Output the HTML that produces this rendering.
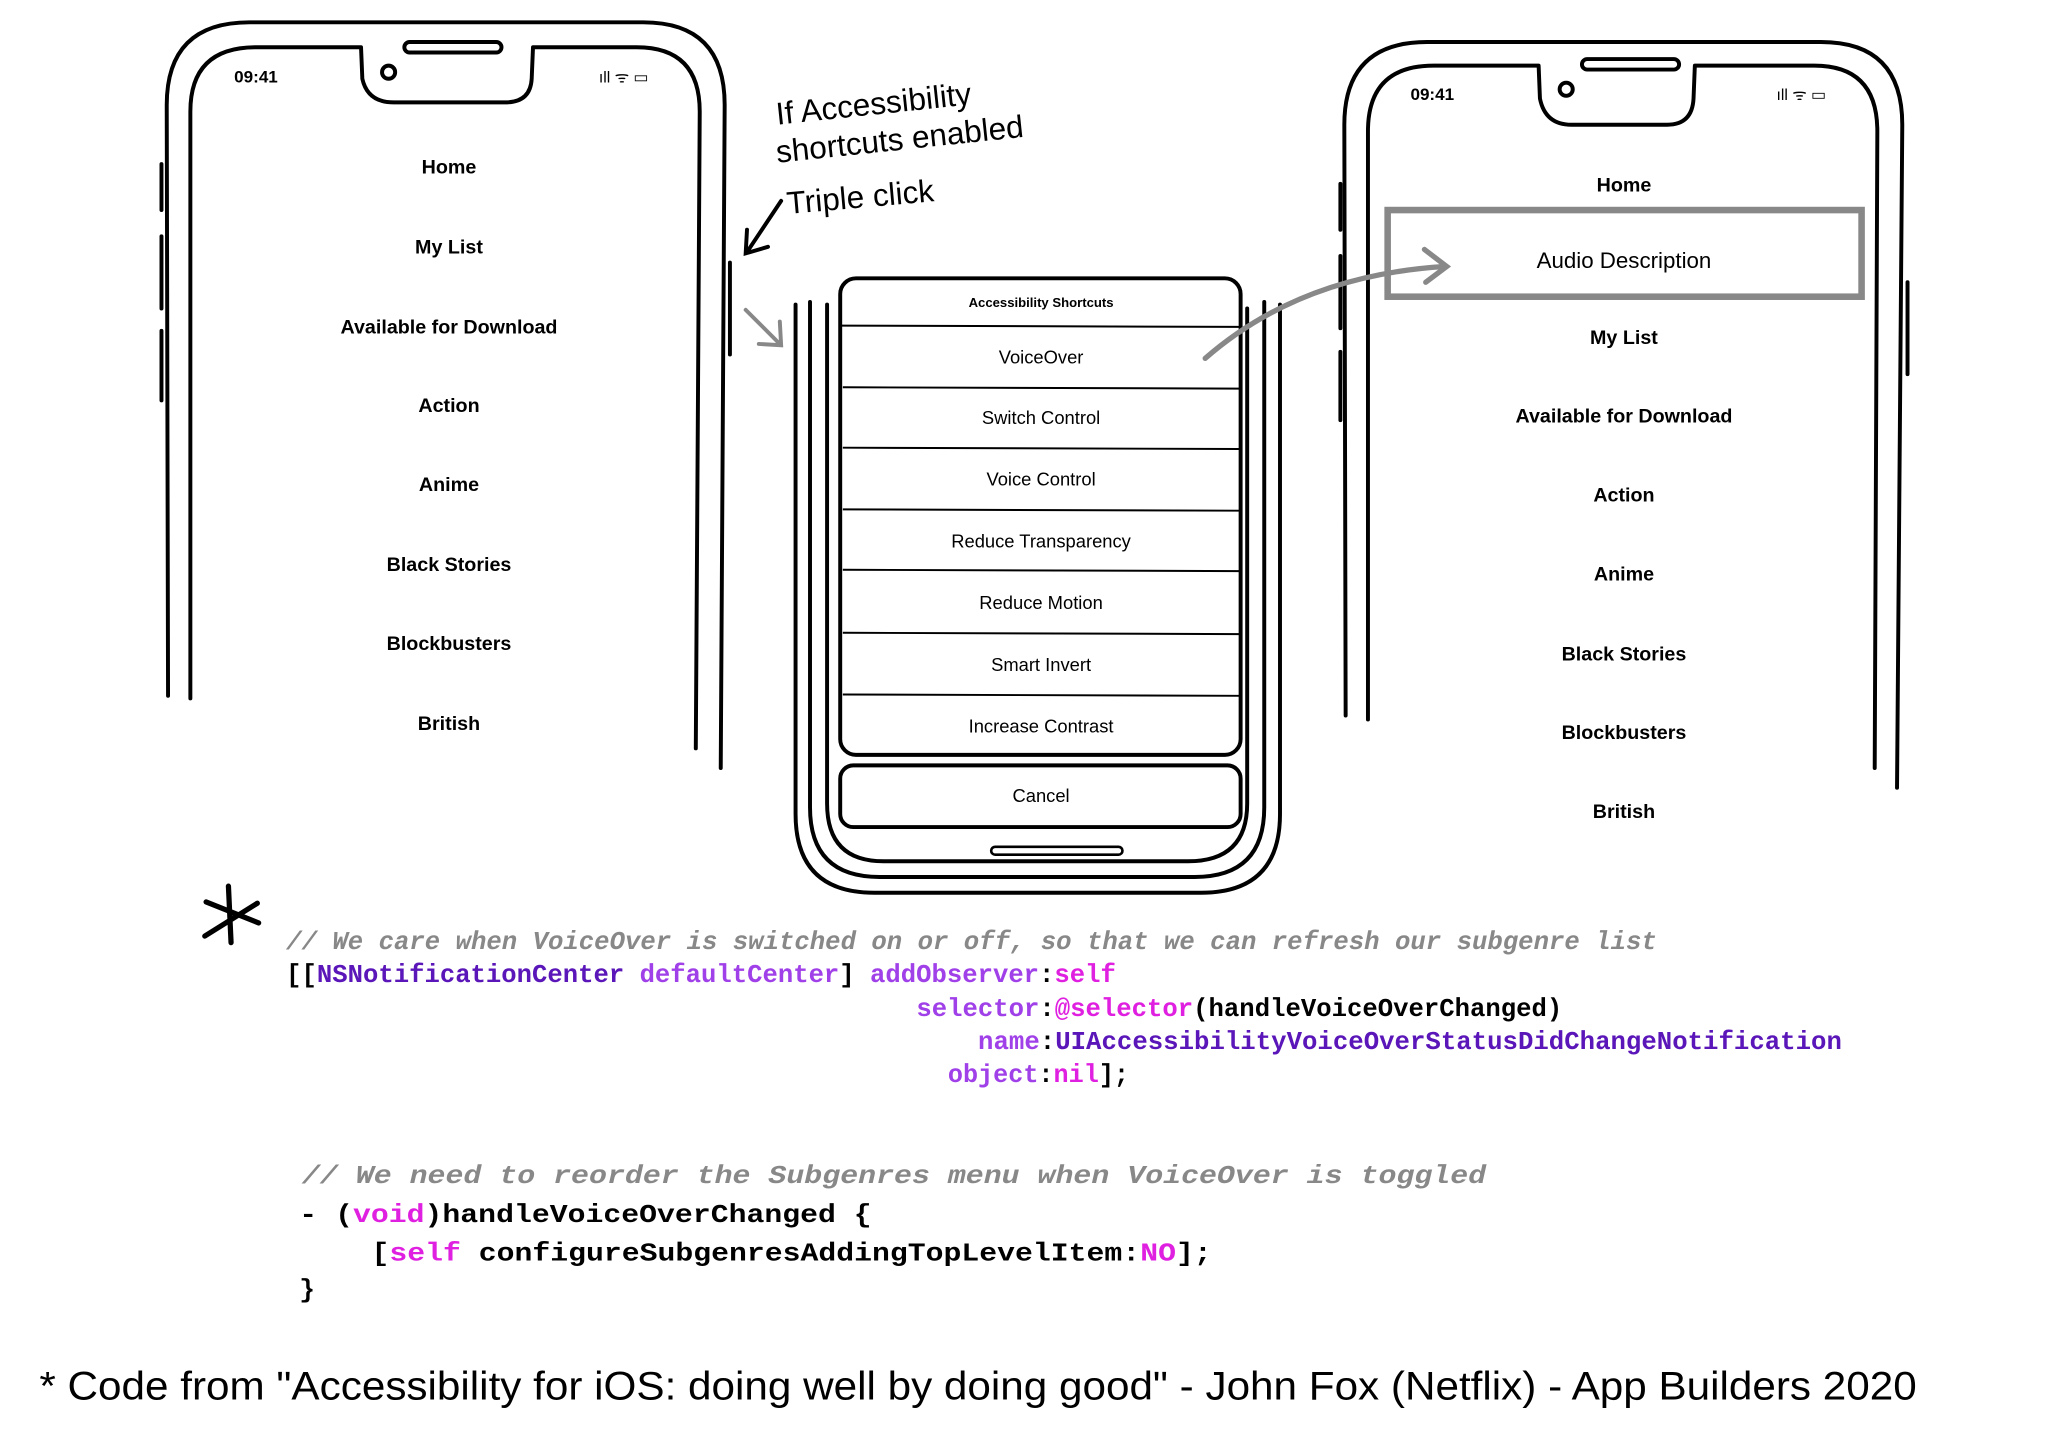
<!DOCTYPE html>
<html><head><meta charset="utf-8"><style>
html,body{margin:0;padding:0;background:#fff;width:2048px;height:1431px;overflow:hidden}
svg{display:block}
.m{font-family:"Liberation Sans",sans-serif;font-weight:bold;font-size:15px;text-anchor:middle;fill:#000}
.s{font-family:"Liberation Sans",sans-serif;font-size:14px;text-anchor:middle;fill:#000}
.c{font-family:"Liberation Mono",monospace;font-size:20px;font-weight:bold}
.h{font-family:"Liberation Sans",sans-serif;font-size:24px;fill:#000}
</style></head><body>
<svg width="2048" height="1431" viewBox="0 0 1560 1090" preserveAspectRatio="none" xmlns="http://www.w3.org/2000/svg">
<g fill="none" stroke="#000" stroke-width="3" stroke-linecap="round" stroke-linejoin="round">
<path d="M128 530 L127 80 Q127 17 190 17 L490 17 Q552 17 552 80 L549 585"/>
<path d="M145 532 L145 85 Q145 36 195 36 L275 36 L276 60 Q280 78 300 78 L385 78 Q404 78 405 60 L406 36 L485 36 Q533 36 533 85 L530 570"/>
<rect x="308" y="32" width="74" height="8" rx="4"/>
<circle cx="296" cy="55" r="5"/>
<path d="M123 125 L123 160 M123 180 L123 235 M123 252 L123 305 M556 200 L556 270"/>
<path d="M1025 545 L1024 95 Q1024 32 1087 32 L1387 32 Q1449 32 1449 95 L1445 600"/>
<path d="M1042 548 L1042 100 Q1042 50 1092 50 L1172 50 L1173 75 Q1177 95 1197 95 L1270 95 Q1289 95 1290 75 L1291 50 L1382 50 Q1430 50 1430 100 L1428 585"/>
<rect x="1205" y="45" width="74" height="8" rx="4"/>
<circle cx="1193" cy="68" r="5"/>
<path d="M1021 140 L1021 175 M1021 195 L1021 250 M1021 268 L1021 320 M1453 215 L1453 285"/>
<path d="M606 232 L606 620 Q606 680 666 680 L915 680 Q975 680 975 620 L975 232"/>
<path d="M617 230 L617 615 Q617 668 670 668 L910 668 Q963 668 963 615 L963 230"/>
<path d="M630 232 L630 612 Q630 656 673 656 L905 656 Q950 656 950 612 L950 235"/>
<rect x="640" y="212" width="305" height="363" rx="12"/>
<rect x="640" y="583" width="305" height="47" rx="10"/>
<rect x="755" y="645" width="100" height="6" rx="3" stroke-width="2"/>
<path d="M174 675 L176 718 M157 687 L197 703 M156 713 L196 688" stroke-width="4"/>
</g>
<g stroke="#000" stroke-width="1.5">
<path d="M641 248 L944 249 M642 295 L944 296 M642 341 L944 342 M642 388 L944 389 M642 434 L944 435 M642 482 L944 483 M642 529 L944 530"/>
</g>
<rect x="1057" y="160" width="361" height="66" fill="none" stroke="#888" stroke-width="5"/>
<path d="M918 273 Q990 210 1100 203" fill="none" stroke="#888" stroke-width="4" stroke-linecap="round"/>
<path d="M1085 190 L1102 203 L1086 215" fill="none" stroke="#888" stroke-width="4" stroke-linecap="round"/>
<path d="M568 236 L594 262 M594 245 L595 263 L578 262" fill="none" stroke="#888" stroke-width="3" stroke-linecap="round"/>
<path d="M595 153 L569 192 M569 175 L568 193 L585 188" fill="none" stroke="#000" stroke-width="3" stroke-linecap="round"/>
<text x="195" y="63" class="s" style="font-weight:bold;font-size:13px">09:41</text>
<text x="1091" y="76" class="s" style="font-weight:bold;font-size:13px">09:41</text>
<text x="475" y="63" class="s" style="font-size:12px">ıll ᯤ ▭</text>
<text x="1372" y="76" class="s" style="font-size:12px">ıll ᯤ ▭</text>
<g class="m">
<text x="342" y="132">Home</text><text x="342" y="193">My List</text><text x="342" y="254">Available for Download</text><text x="342" y="314">Action</text><text x="342" y="374">Anime</text><text x="342" y="435">Black Stories</text><text x="342" y="495">Blockbusters</text><text x="342" y="556">British</text>
</g>
<g class="m">
<text x="1237" y="146">Home</text><text x="1237" y="204" style="font-weight:normal;font-size:17px">Audio Description</text><text x="1237" y="262">My List</text><text x="1237" y="322">Available for Download</text><text x="1237" y="382">Action</text><text x="1237" y="442">Anime</text><text x="1237" y="503">Black Stories</text><text x="1237" y="563">Blockbusters</text><text x="1237" y="623">British</text>
</g>
<g class="s">
<text x="793" y="234" style="font-size:10px;font-weight:bold">Accessibility Shortcuts</text>
<text x="793" y="277">VoiceOver</text><text x="793" y="323">Switch Control</text><text x="793" y="370">Voice Control</text><text x="793" y="417">Reduce Transparency</text><text x="793" y="464">Reduce Motion</text><text x="793" y="511">Smart Invert</text><text x="793" y="558">Increase Contrast</text><text x="793" y="611">Cancel</text>
</g>
<text class="h" x="592" y="95" transform="rotate(-6 592 95)">If Accessibility</text>
<text class="h" x="592" y="124" transform="rotate(-6 592 124)">shortcuts enabled</text>
<text class="h" x="600" y="163" transform="rotate(-5 600 163)">Triple click</text>
<g class="c">
<text x="218" y="723" fill="#888" font-style="italic" textLength="1044" lengthAdjust="spacingAndGlyphs">// We care when VoiceOver is switched on or off, so that we can refresh our subgenre list</text>
<text x="218" y="748" textLength="632" lengthAdjust="spacingAndGlyphs"><tspan fill="#000">[[</tspan><tspan fill="#5a16b8">NSNotificationCenter</tspan> <tspan fill="#a040e8">defaultCenter</tspan><tspan fill="#000">]</tspan> <tspan fill="#a040e8">addObserver</tspan><tspan fill="#000">:</tspan><tspan fill="#e020e0">self</tspan></text>
<text x="698" y="774" textLength="492" lengthAdjust="spacingAndGlyphs"><tspan fill="#a040e8">selector</tspan><tspan fill="#000">:</tspan><tspan fill="#e020e0">@selector</tspan><tspan fill="#000">(handleVoiceOverChanged)</tspan></text>
<text x="745" y="799" textLength="658" lengthAdjust="spacingAndGlyphs"><tspan fill="#a040e8">name</tspan><tspan fill="#000">:</tspan><tspan fill="#5a16b8">UIAccessibilityVoiceOverStatusDidChangeNotification</tspan></text>
<text x="722" y="824" textLength="138" lengthAdjust="spacingAndGlyphs"><tspan fill="#a040e8">object</tspan><tspan fill="#000">:</tspan><tspan fill="#e020e0">nil</tspan><tspan fill="#000">];</tspan></text>
<text x="230" y="901" fill="#888" font-style="italic" textLength="902" lengthAdjust="spacingAndGlyphs">// We need to reorder the Subgenres menu when VoiceOver is toggled</text>
<text x="228" y="931" fill="#000" textLength="436" lengthAdjust="spacingAndGlyphs">- (<tspan fill="#e020e0">void</tspan>)handleVoiceOverChanged {</text>
<text x="283" y="960" fill="#000" textLength="640" lengthAdjust="spacingAndGlyphs">[<tspan fill="#e020e0">self</tspan> configureSubgenresAddingTopLevelItem:<tspan fill="#e020e0">NO</tspan>];</text>
<text x="228" y="988" fill="#000">}</text>
</g>
<text x="30" y="1066" style="font-family:'Liberation Sans',sans-serif;font-size:30px" textLength="1430" lengthAdjust="spacingAndGlyphs">* Code from "Accessibility for iOS: doing well by doing good" - John Fox (Netflix) - App Builders 2020</text>
</svg>
</body></html>
